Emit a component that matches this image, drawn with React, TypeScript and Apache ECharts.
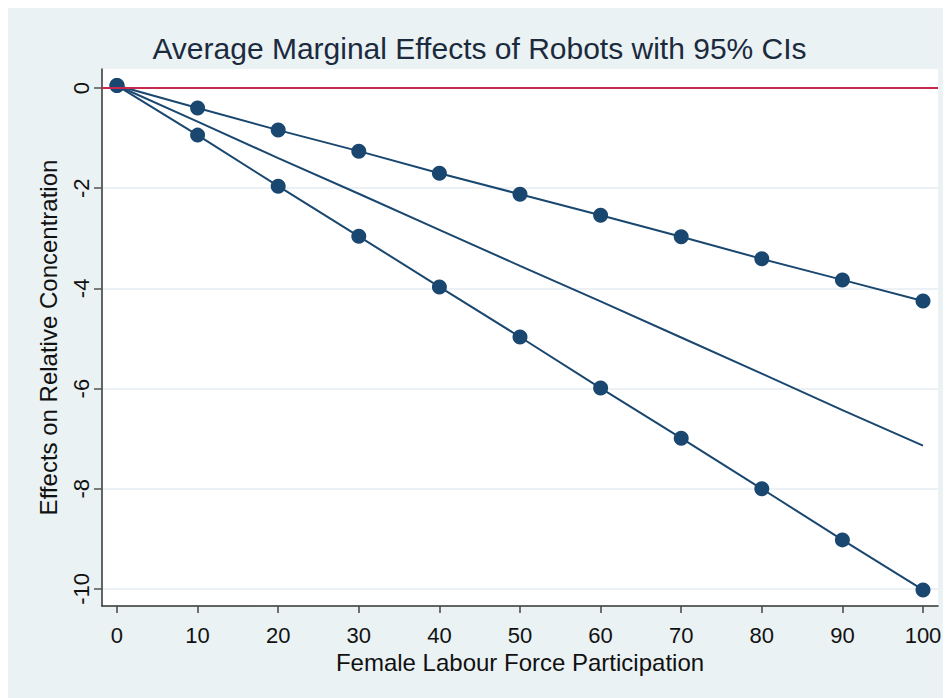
import React, { useEffect, useRef } from "react";
import * as echarts from "echarts";

const xValues = [0, 10, 20, 30, 40, 50, 60, 70, 80, 90, 100];
const upperCI = [0.05, -0.4, -0.84, -1.26, -1.7, -2.12, -2.54, -2.97, -3.41, -3.83, -4.25];
const estimate = [0.05, -0.67, -1.4, -2.11, -2.83, -3.55, -4.26, -4.98, -5.7, -6.43, -7.14];
const lowerCI = [0.05, -0.94, -1.96, -2.96, -3.97, -4.97, -5.99, -6.99, -8.0, -9.02, -10.02];
const xTicks = [0, 10, 20, 30, 40, 50, 60, 70, 80, 90, 100];
const yTicks = [0, -2, -4, -6, -8, -10];
const gridTicks = [-2, -4, -6, -8, -10];
const refLine = 0;

const NAVY = "#1a476f";
const FONT = "Liberation Sans, Arial, sans-serif";

export default function App() {
  const ref = useRef<HTMLDivElement>(null);
  useEffect(() => {
    if (!ref.current) return;
    const chart = echarts.init(ref.current, undefined, { renderer: "svg" });
    const pts = (ys: number[]) => xValues.map((x, i) => [x, ys[i]]);
    chart.setOption({
      animation: false,
      backgroundColor: "#eaf2f3",
      title: {
        text: "Average Marginal Effects of Robots with 95% CIs",
        left: "center",
        top: 20,
        textStyle: { fontFamily: FONT, fontSize: 30, fontWeight: "normal", color: "#1c2a3e" },
      },
      grid: {
        left: 94,
        top: 61,
        right: 13,
        bottom: 92,
        show: true,
        backgroundColor: "#ffffff",
        borderWidth: 0,
        containLabel: false,
      },
      xAxis: {
        type: "value",
        min: -1.86,
        max: 101.86,
        name: "Female Labour Force Participation",
        nameLocation: "middle",
        nameGap: 36,
        nameTextStyle: { fontFamily: FONT, fontSize: 24, color: "#111" },
        axisLine: { show: true, onZero: false, lineStyle: { color: "#333", width: 1.5 } },
        axisTick: { show: true, length: 7, customValues: xTicks, lineStyle: { color: "#444", width: 1.5 } },
        axisLabel: { customValues: xTicks, margin: 18, fontFamily: FONT, fontSize: 22, color: "#111" },
        splitLine: { show: false },
      },
      yAxis: {
        type: "value",
        min: -10.34,
        max: 0.38,
        name: "Effects on Relative Concentration",
        nameLocation: "middle",
        nameRotate: 90,
        nameGap: 42,
        nameTextStyle: { fontFamily: FONT, fontSize: 24, color: "#111" },
        axisLine: { show: true, onZero: false, lineStyle: { color: "#333", width: 1.5 } },
        axisTick: { show: true, length: 8, customValues: yTicks, lineStyle: { color: "#555", width: 1.5 } },
        axisLabel: { customValues: yTicks, rotate: 90, margin: 10, fontFamily: FONT, fontSize: 22, color: "#111" },
        splitLine: { show: true, customValues: gridTicks, lineStyle: { color: "#ebf1f4", width: 2 } },
      },
      series: [
        {
          type: "line",
          data: [],
          silent: true,
          markLine: {
            silent: true,
            symbol: "none",
            label: { show: false },
            lineStyle: { color: "#c8284e", width: 2, type: "solid" },
            data: [{ yAxis: refLine }],
          },
          z: 1,
        },
        {
          type: "line",
          data: pts(upperCI),
          symbol: "circle",
          symbolSize: 15,
          lineStyle: { color: NAVY, width: 2 },
          itemStyle: { color: NAVY },
          z: 3,
        },
        {
          type: "line",
          data: pts(estimate),
          symbol: "none",
          lineStyle: { color: NAVY, width: 2 },
          z: 3,
        },
        {
          type: "line",
          data: pts(lowerCI),
          symbol: "circle",
          symbolSize: 15,
          lineStyle: { color: NAVY, width: 2 },
          itemStyle: { color: NAVY },
          z: 3,
        },
      ],
    });
    return () => chart.dispose();
  }, []);
  return <div ref={ref} style={{ width: 943, height: 690 }} />;
}
